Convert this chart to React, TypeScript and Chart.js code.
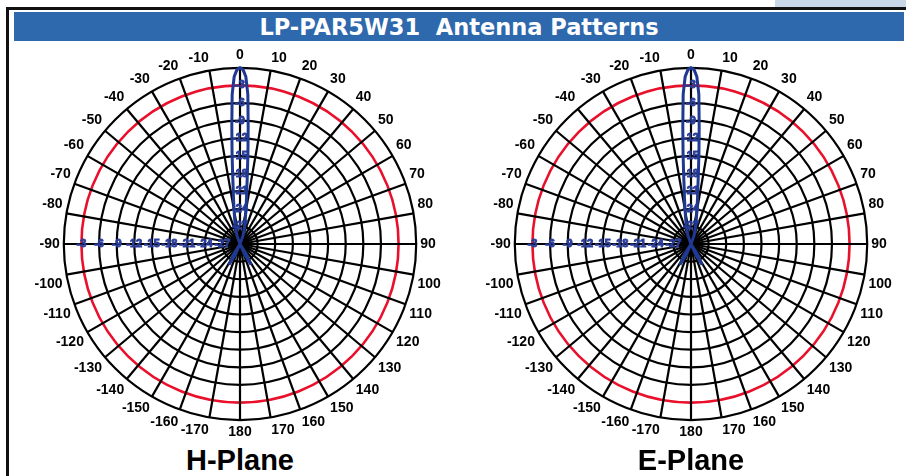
import React, { useEffect, useRef } from "react";
import { Chart, registerables } from "chart.js";

Chart.register(...registerables);

// ---------- data ----------
const TITLE = "LP-PAR5W31  Antenna Patterns";
const PLANE_NAMES = ["H-Plane", "E-Plane"];

// radial axis (dB)
const DB_MIN = -30;
const DB_MAX = 0;
const DB_STEP = 3;
const HALF_POWER_DB = -3;

// angular axis: 1 degree resolution, labelled / spoked every 10 degrees
const SPOKE_EVERY = 10;
const ANGLES: number[] = Array.from({ length: 360 }, (_, i) => (i <= 180 ? i : i - 360));

// measured pattern samples (angle in degrees -> relative level in dB)
const patternAngles = [
  -160, -156, -152, -148, -144, -140, -90, -30, -20, -15, -12, -10, -8, -7, -6, -5, -4, -3, -2, -1,
  0, 1, 2, 3, 4, 5, 6, 7, 8, 10, 12, 15, 20, 30, 90, 140, 144, 148, 152, 156, 160, 180,
];
const hPlaneDb = [
  -30, -28, -26, -28, -30, -30, -30, -30, -28.5, -27, -25.6, -24.2, -22, -20.5, -18, -14.5, -10, -4.5, -1.5, -0.3,
  0, -0.3, -1.5, -4.5, -10, -14.5, -18, -20.5, -22, -24.2, -25.6, -27, -28.5, -30, -30, -30, -30, -28, -26, -28, -30, -30,
];
const ePlaneDb = [
  -30, -28, -26, -28, -30, -30, -30, -30, -28.5, -27, -25.6, -24.2, -22, -20.5, -18, -14.5, -10, -4.5, -1.5, -0.3,
  0, -0.3, -1.5, -4.5, -10, -14.5, -18, -20.5, -22, -24.2, -25.6, -27, -28.5, -30, -30, -30, -30, -28, -26, -28, -30, -30,
];

// ---------- styles ----------
const BLACK = "#000000";
const RED = "#e8102a";
const BEAM = "#1f3892";
const TICK_BLUE = "#2a3d98";
const BAR_BLUE = "#2e68ad";
const LABEL_FONT = "Liberation Sans";
const TICK_SIZE = 11;
const TICK_STROKE = 0.9;

const CW = 460;
const CH = 395;

const leftTicksPlugin = {
  id: "leftTicks",
  beforeDatasetsDraw(chart: any) {
    const scale = chart.scales.r;
    const idx = ANGLES.indexOf(-90);
    const ctx = chart.ctx;
    ctx.save();
    ctx.font = `bold ${TICK_SIZE}px "${LABEL_FONT}"`;
    ctx.fillStyle = TICK_BLUE;
    ctx.strokeStyle = TICK_BLUE;
    ctx.lineWidth = TICK_STROKE;
    ctx.textAlign = "center";
    ctx.textBaseline = "middle";
    scale.ticks.forEach((t: any) => {
      if (t.value === DB_MIN || t.value === DB_MAX) return;
      const p = scale.getPointPositionForValue(idx, t.value);
      ctx.strokeText(String(t.value), p.x, p.y);
      ctx.fillText(String(t.value), p.x, p.y);
    });
    ctx.restore();
  },
};

function PolarPlot({ db, left, top }: { db: number[]; left: number; top: number }) {
  const ref = useRef<HTMLCanvasElement>(null);
  useEffect(() => {
    const data = ANGLES.map((a) => {
      const k = patternAngles.indexOf(a);
      return k >= 0 ? db[k] : null;
    });
    const chart = new Chart(ref.current as HTMLCanvasElement, {
      type: "radar",
      data: {
        labels: ANGLES.map((a) => String(a)),
        datasets: [
          {
            data,
            borderColor: BEAM,
            borderWidth: 3,
            pointRadius: 0,
            fill: false,
            spanGaps: true,
            tension: 0,
          } as any,
        ],
      },
      options: {
        responsive: false,
        animation: false,
        events: [],
        plugins: { legend: { display: false }, tooltip: { enabled: false } },
        scales: {
          r: {
            min: DB_MIN,
            max: DB_MAX,
            ticks: {
              stepSize: DB_STEP,
              showLabelBackdrop: false,
              backdropPadding: 0,
              color: TICK_BLUE,
              textStrokeColor: TICK_BLUE,
              textStrokeWidth: TICK_STROKE,
              font: { family: LABEL_FONT, weight: "bold", size: TICK_SIZE },
              callback: (v: any) => (v === DB_MIN || v === DB_MAX ? "" : String(v)),
            },
            grid: {
              circular: true,
              color: (c: any) => (c.tick && c.tick.value === HALF_POWER_DB ? RED : BLACK),
              lineWidth: (c: any) => (c.tick && c.tick.value === HALF_POWER_DB ? 2.6 : 2.2),
            },
            angleLines: {
              color: (c: any) => (Number(ANGLES[c.index]) % SPOKE_EVERY === 0 ? BLACK : "rgba(0,0,0,0)"),
              lineWidth: (c: any) => (Number(ANGLES[c.index]) % SPOKE_EVERY === 0 ? 2.2 : 0),
            },
            pointLabels: {
              padding: -1.5,
              color: BLACK,
              font: { family: LABEL_FONT, weight: "bold", size: 14 },
              callback: (label: any) => (Number(label) % SPOKE_EVERY === 0 ? String(label) : ""),
            },
          },
        },
      } as any,
      plugins: [leftTicksPlugin],
    });
    return () => chart.destroy();
  }, [db]);
  return (
    <canvas
      ref={ref}
      width={CW}
      height={CH}
      style={{ position: "absolute", left, top, width: CW, height: CH }}
    />
  );
}

export default function App() {
  return (
    <div
      style={{
        position: "absolute",
        left: 0,
        top: 0,
        width: 906,
        height: 476,
        background: "#ffffff",
        overflow: "hidden",
        fontFamily: LABEL_FONT,
      }}
    >
      <div style={{ position: "absolute", left: 775, top: 0, width: 131, height: 7, background: "#c9d6e8" }} />
      <div style={{ position: "absolute", left: 6, top: 7, width: 900, height: 3, background: "#111" }} />
      <div style={{ position: "absolute", left: 6, top: 7, width: 3, height: 469, background: "#111" }} />
      <div
        style={{
          position: "absolute",
          left: 14,
          top: 12,
          width: 890,
          height: 29,
          background: BAR_BLUE,
          color: "#fff",
          display: "flex",
          alignItems: "center",
          justifyContent: "center",
          fontFamily: "DejaVu Sans",
          fontWeight: "bold",
          fontSize: 22.5,
          whiteSpace: "pre",
        }}
      >
        {TITLE}
      </div>
      <PolarPlot db={hPlaneDb} left={10} top={47} />
      <PolarPlot db={ePlaneDb} left={461} top={47} />
      {PLANE_NAMES.map((n, i) => (
        <div
          key={n}
          style={{
            position: "absolute",
            left: (i === 0 ? 240 : 691) - 100,
            top: 443,
            width: 200,
            textAlign: "center",
            fontWeight: "bold",
            fontSize: 29,
            lineHeight: "34px",
            color: "#000",
          }}
        >
          {n}
        </div>
      ))}
    </div>
  );
}
